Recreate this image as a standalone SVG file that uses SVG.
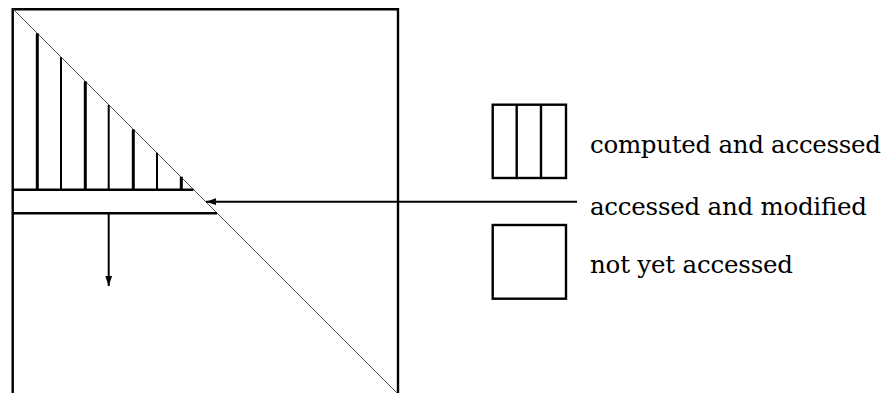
<svg xmlns="http://www.w3.org/2000/svg" width="888" height="393" viewBox="0 0 888 393">
  <style>
    .ln { stroke: #000; stroke-width: 2.4; fill: none; }
    .thick { stroke: #000; stroke-width: 3; }
    .thin { stroke: #000; stroke-width: 2; }
    .diag { stroke: #555; stroke-width: 1; fill: none; }
    .lbl { font-family: 'DejaVu Serif', serif; font-size: 24.5px; fill: #000; }
  </style>
  <defs>
    <marker id="ah" markerWidth="10" markerHeight="8" refX="10" refY="4" orient="auto" markerUnits="userSpaceOnUse">
      <path d="M0,0.6 L10,4 L0,7.4 Z" fill="#000"/>
    </marker>
  </defs>

  <g id="matrix">
    <path class="ln" d="M12.7,393 V9.3 H398 V393"/>
    <line class="diag" x1="13" y1="9" x2="397" y2="393"/>
    <line class="thick" x1="37.3" y1="33.3" x2="37.3" y2="189.7"/>
    <line class="thin" x1="61" y1="57.3" x2="61" y2="189.7"/>
    <line class="thick" x1="85.3" y1="81.3" x2="85.3" y2="189.7"/>
    <line class="thin" x1="108.7" y1="105" x2="108.7" y2="189.7"/>
    <line class="thick" x1="133.3" y1="129.3" x2="133.3" y2="189.7"/>
    <line class="thin" x1="157" y1="152.7" x2="157" y2="189.7"/>
    <line class="thick" x1="181.3" y1="176.7" x2="181.3" y2="189.7"/>
    <line class="ln" x1="12.7" y1="189.7" x2="193.5" y2="189.7"/>
    <line class="ln" x1="12.7" y1="213.3" x2="217" y2="213.3"/>
  </g>

  <g id="legend-computed">
    <rect class="ln" x="492.7" y="104.7" width="73.3" height="73.3"/>
    <line class="ln" x1="516.7" y1="104.7" x2="516.7" y2="178"/>
    <line class="ln" x1="541" y1="104.7" x2="541" y2="178"/>
    <text class="lbl" x="590" y="153" textLength="291" lengthAdjust="spacing">computed and accessed</text>
  </g>

  <g id="legend-modified">
    <text class="lbl" x="590" y="215" textLength="277" lengthAdjust="spacing">accessed and modified</text>
  </g>

  <g id="legend-notyet">
    <rect class="ln" x="492.7" y="225" width="73.3" height="73.7"/>
    <text class="lbl" x="590" y="273" textLength="203" lengthAdjust="spacing">not yet accessed</text>
  </g>

  <g id="connectors">
    <line class="thin" x1="577" y1="201.7" x2="206" y2="201.7" marker-end="url(#ah)"/>
    <line class="thin" x1="108.7" y1="213.3" x2="108.7" y2="286" marker-end="url(#ah)"/>
  </g>
</svg>
